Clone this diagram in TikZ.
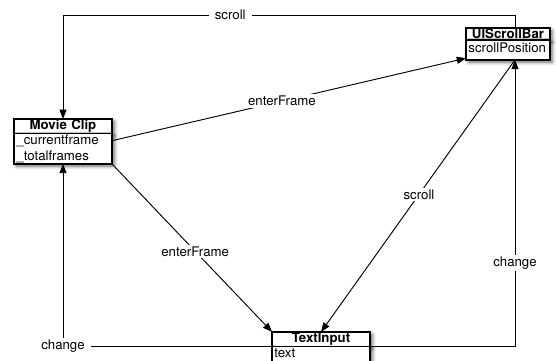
\documentclass[tikz,border=0pt]{standalone}
\usepackage{fontspec}
\setmainfont{TeX Gyre Heros}
\usetikzlibrary{arrows.meta,positioning,shadows.blur}

\begin{document}
\begin{tikzpicture}
[x=0.03cm, y=-0.03cm, line width=0.8pt, >={Triangle[length=8pt,width=6pt]},
font=\fontsize{11.3}{13.5}\selectfont,
cls/.style={draw, fill=white, line width=1.2pt, outer sep=0pt, inner xsep=2pt,
  blur shadow={shadow xshift=2pt, shadow yshift=-2pt, shadow blur radius=3pt, shadow opacity=60}},
clshead/.style={cls, font=\fontsize{11.3}{13.5}\selectfont\bfseries, align=center, inner ysep=0.8pt},
clsbody/.style={cls, align=left, inner ysep=1pt},
lbl/.style={fill=white, inner xsep=5pt, inner ysep=1.5pt}]

\useasboundingbox (0,0) rectangle (556,360);
\clip (0,0) rectangle (556,360);

\node[clshead, text width=79.5pt, anchor=north] (mc) at (63,119) {Movie Clip};
\node[clsbody, text width=79.5pt, below=0pt of mc] (mcbody) {\_currentframe\\\_totalframes};

\node[clshead, text width=67.5pt, anchor=north] (sb) at (508,28) {UIScrollBar};
\node[clsbody, text width=67.5pt, minimum height=0.6cm, text depth=4pt, below=0pt of sb] (sbbody) {scrollPosition};

\node[clshead, text width=79.5pt, anchor=north] (ti) at (321,332) {TextInput};
\node[clsbody, text width=79.5pt, minimum height=1.2cm, text depth=22pt, below=0pt of ti] (tibody) {text};

\coordinate (rcol) at (515,0);
\coordinate (toprow) at (0,15);
\coordinate (botrow) at (0,346);

\draw[->] (sb.north -| rcol) -- (rcol |- toprow) -- node[lbl, pos=0.63] {scroll} (mc.north |- toprow) -- (mc.north);
\draw[->] ([yshift=0.24cm]mcbody.east) -- node[lbl, pos=0.48] {enterFrame} ([yshift=0.05cm]sbbody.south west);
\draw[->] (mcbody.south east) -- node[lbl, pos=0.52] {enterFrame} (ti.north west);
\draw[->] (sbbody.south -| rcol) -- node[lbl, pos=0.495] {scroll} (ti.north);
\draw[->] (tibody.east |- botrow) -- (rcol |- botrow) -- node[lbl, pos=0.29] {change} (sbbody.south -| rcol);
\draw[->] (tibody.west |- botrow) -- (mc.south |- botrow) node[lbl] {change} -- (mcbody.south);
\end{tikzpicture}
\end{document}
